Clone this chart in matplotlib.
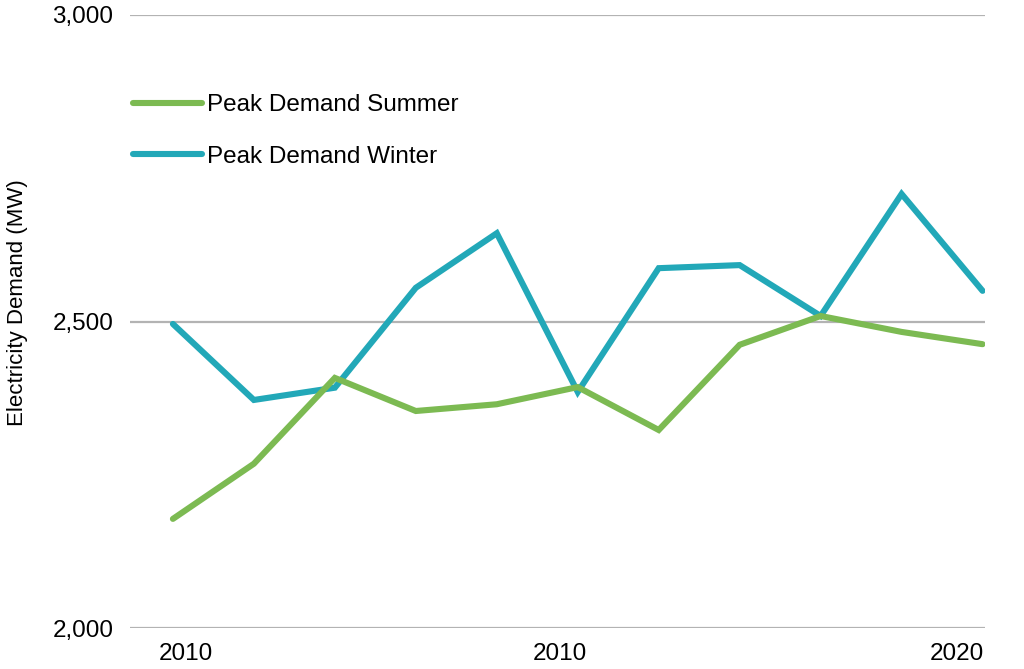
import numpy as np
import matplotlib
matplotlib.use("Agg")
import matplotlib.pyplot as plt

plt.rcParams['font.family'] = ['Liberation Sans', 'DejaVu Sans']

# data
points = list(range(11))
summer = [2178, 2268, 2408, 2354, 2365, 2393, 2323, 2462, 2509, 2483, 2463]
winter = [2496, 2372, 2392, 2555, 2644, 2385, 2587, 2592, 2509, 2708, 2550]
tick_labels = ['2010', '2010', '2020']
tick_pos = [0.16, 4.78, 9.68]
y_ticks = [2000, 2500, 3000]

green = '#7cba52'
teal = '#22a8b8'

fig = plt.figure(figsize=(10.24, 6.69), dpi=100)
ax = fig.add_axes([130 / 1024, 1 - 628 / 669, 855 / 1024, 613 / 669])

ax.plot(points, winter, color=teal, lw=4.4, solid_capstyle='round',
        solid_joinstyle='miter', label='Peak Demand Winter', zorder=3)
ax.plot(points, summer, color=green, lw=4.4, solid_capstyle='round',
        solid_joinstyle='miter', label='Peak Demand Summer', zorder=4)

ax.set_xlim(-0.53, 10.03)
ax.set_ylim(2000, 3000)
ax.set_yticks(y_ticks)
ax.set_yticklabels([f'{v:,}' for v in y_ticks])
ax.set_xticks(tick_pos)
ax.set_xticklabels(tick_labels)
ax.tick_params(length=0, labelsize=17.5, colors='black')
ax.tick_params(axis='y', pad=12)
ax.tick_params(axis='x', pad=11)
ax.grid(axis='y', color='#b3b3b3', lw=1.6)
ax.set_axisbelow(True)
for s in ax.spines.values():
    s.set_visible(False)

ax.set_ylabel('Electricity Demand (MW)', fontsize=16)
ax.yaxis.set_label_coords(-0.119, 0.53)

handles, labels = ax.get_legend_handles_labels()
ax.legend(handles[::-1], labels[::-1], loc='upper left',
          bbox_to_anchor=(0.0035, 0.871), frameon=False, fontsize=17.5,
          borderpad=0, borderaxespad=0, handlelength=2.85,
          handletextpad=0.2, labelspacing=1.23)

fig.savefig('out.png', dpi=100)
